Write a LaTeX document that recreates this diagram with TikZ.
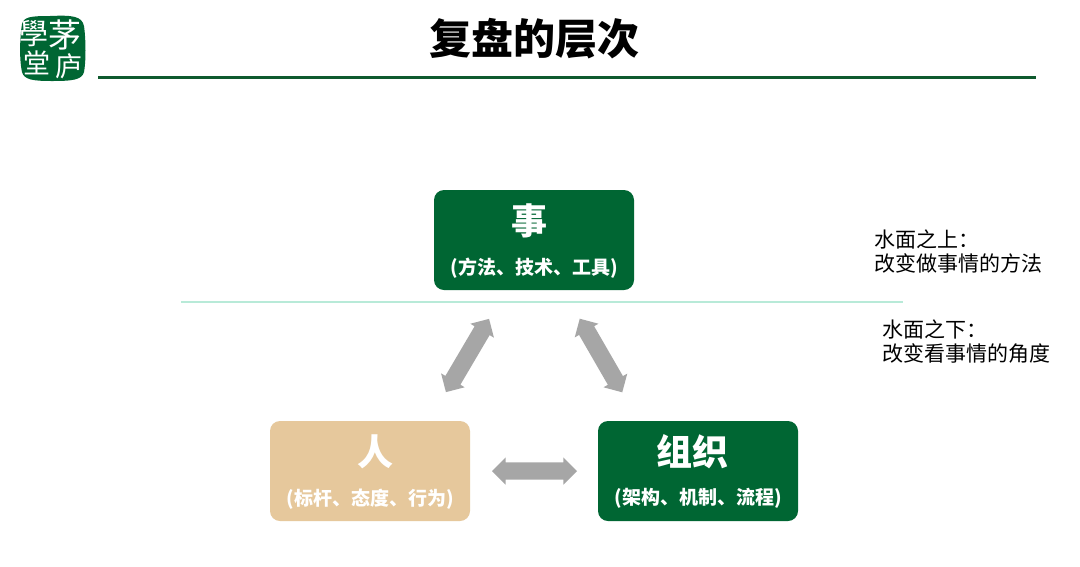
\documentclass[tikz,border=0pt]{standalone}
\usepackage{fontspec}
\setmainfont{Noto Sans CJK SC}
\newfontfamily\tcfont{Noto Sans CJK TC}
\usetikzlibrary{shapes.arrows}
\definecolor{mygreen}{HTML}{006633}
\definecolor{mytan}{HTML}{E6C89C}
\definecolor{rulegreen}{HTML}{0F5A2E}
\definecolor{waterline}{HTML}{B8EAD8}
\definecolor{arrowgrey}{HTML}{A6A6A6}
\newcommand{\fs}[1]{\fontsize{#1}{#1}\selectfont}
\tikzset{
  card/.style={rounded corners=10pt,minimum width=200pt,minimum height=100pt,inner sep=0pt,align=center,text=white,font=\bfseries},
  biarrow/.style={double arrow,fill=arrowgrey,draw=none,minimum height=85pt,inner xsep=0pt,inner ysep=8.5pt,
    double arrow head extend=5pt,double arrow tip angle=90,anchor=center},
  note/.style={anchor=west,align=left,inner sep=0pt,font=\fs{21},text=black},
  seal/.style={text=white,inner sep=0pt},
}
\newcommand{\cardtext}[3]{\rule{0pt}{32pt}\hspace*{#1}{\fs{36}#2}\\[19pt]{\fs{19}#3}}
\begin{document}
\begin{tikzpicture}[x=1pt,y=-1pt]
\useasboundingbox (0,0) rectangle (1080,566);
\fill[white] (0,0) rectangle (1080,566);
% logo
\fill[mygreen] (22,24) .. controls (24,17) and (30,16) .. (50,16) .. controls (72,15) and (82,16) .. (84,26)
  .. controls (86,40) and (86,62) .. (84,72) .. controls (82,80) and (72,81) .. (52,81)
  .. controls (34,81) and (24,80) .. (22,72) .. controls (19,58) and (20,36) .. (22,24) -- cycle;
\node[seal,font=\tcfont\fs{29}] (seala) at (34,34) {學};
\node[seal,font=\fs{33}] (sealb) at (65,35) {茅};
\node[seal,font=\fs{27}] (sealc) at (37,63) {堂};
\node[seal,font=\fs{27}] (seald) at (69,66) {庐};
% title
\node[font=\bfseries\fs{42},inner sep=0pt] (title) at (534,39) {复盘的层次};
\coordinate (ruleL) at (98,77); \coordinate (ruleR) at (1036,77);
\draw[rulegreen,line width=3pt] (ruleL) -- (ruleR);
% water line
\coordinate (waterL) at (181,301.5); \coordinate (waterR) at (903,301.5);
\draw[draw=waterline,line width=2pt] (waterL) -- (waterR);
% cards
\node[card,fill=mygreen] (shi) at (534,240) {\cardtext{-10pt}{事}{(方法、技术、工具)}};
\node[card,fill=mytan] (ren) at (370,471) {\cardtext{10pt}{人}{(标杆、态度、行为)}};
\node[card,fill=mygreen] (zuzhi) at (698,471) {\cardtext{-12pt}{组织}{(架构、机制、流程)}};
% arrows
\node[biarrow,rotate=59.5] (a1) at (467.5,355.5) {};
\node[biarrow,rotate=-60] (a2) at (601,355.5) {};
\node[biarrow] (a3) at (534.5,471) {};
% notes
\node[note] (above) at (874,251.5) {水面之上：\\[3pt]改变做事情的方法};
\node[note] (below) at (882,341.5) {水面之下：\\[3pt]改变看事情的角度};
\end{tikzpicture}
\end{document}
